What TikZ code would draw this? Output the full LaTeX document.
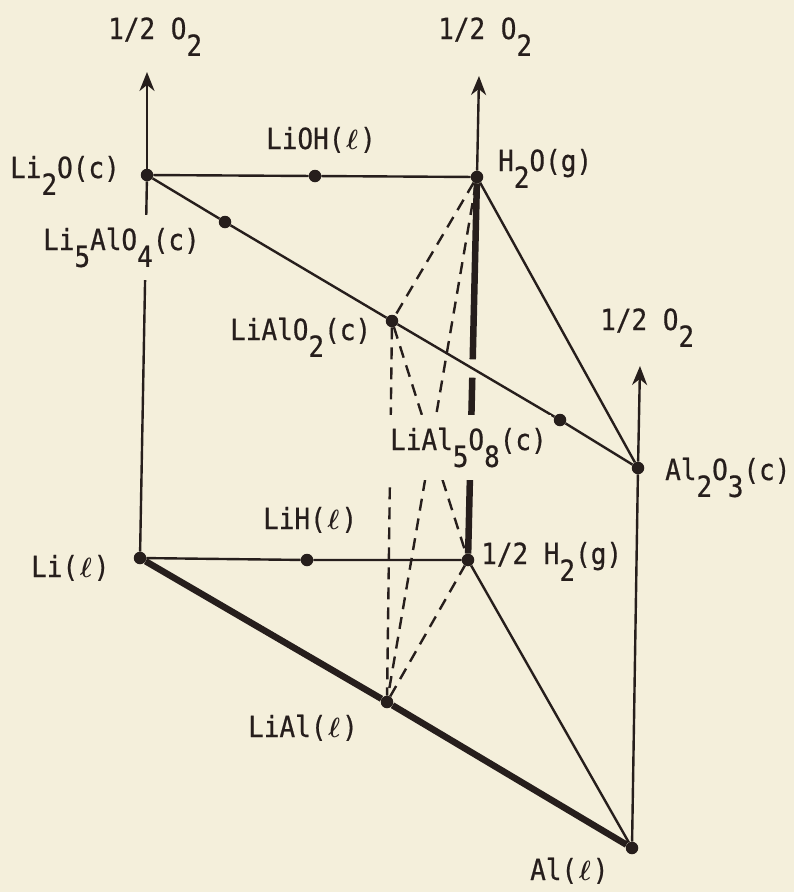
\documentclass[tikz,border=0pt]{standalone}
\usepackage{fontspec}
\newfontfamily\lblfont[FakeBold=0.6]{DejaVu Sans Mono}
\usetikzlibrary{arrows.meta,calc}
\definecolor{bg}{RGB}{244,239,219}
\definecolor{ink}{RGB}{38,30,28}
\newcommand{\lw}[1]{\raisebox{-0.58em}{#1}}
\newcommand{\el}{\makebox[0.602em]{$\boldsymbol{\ell}$}}
\newcommand{\T}[1]{\scalebox{1}[1.12]{#1}}
\usepackage{amsmath,bm}
\begin{document}
\begin{tikzpicture}[x=1pt,y=-1pt,
 lbl/.style={anchor=base west, inner sep=0pt, font=\lblfont\fontsize{26}{30}\selectfont, text=ink},
 lblf/.style={lbl, fill=bg, inner xsep=4pt, inner ysep=13pt},
 dot/.style={circle, fill=ink, inner sep=0pt, minimum size=12.5pt},
 ln/.style={draw=ink, line width=2.4pt},
 heavy/.style={draw=ink, line width=6.5pt},
 dsh/.style={draw=ink, line width=2.4pt, dash pattern=on 12pt off 8pt},
 arr/.style={ln, -{Stealth[length=19pt,width=15pt,inset=6pt]}}]
\fill[bg] (0,0) rectangle (794,892);
\useasboundingbox (0,0) rectangle (794,892);
% points
\node[dot] (li2o) at (147,175) {};
\node[dot] (lioh) at (315,176) {};
\node[dot] (h2o) at (477,177) {};
\node[dot] (li5) at (225,222) {};
\node[dot] (lialo2) at (392,321) {};
\node[dot] (lial5) at (560,420) {};
\node[dot] (al2o3) at (638,468) {};
\node[dot] (li) at (140,558) {};
\node[dot] (lih) at (307,560) {};
\node[dot] (h2) at (468,560) {};
\node[dot] (lial) at (387,702) {};
\node[dot] (al) at (632,848) {};
\coordinate (t1) at (147,72);
\coordinate (t2) at (479,76);
\coordinate (t3) at (640,366);
% arrows
\draw[arr] (li2o) -- (t1);
\draw[arr] (h2o) -- (t2);
\draw[arr] (al2o3) -- (t3);
% thin lines
\draw[ln] (li2o) -- (lioh) -- (h2o);
\draw[ln] (li2o) -- (li);
\draw[ln] (li2o) -- (li5) -- (lialo2) -- (lial5) -- (al2o3);
\draw[ln] (h2o) -- (al2o3);
\draw[ln] (al2o3) -- (al);
\draw[ln] (li) -- (lih) -- (h2);
\draw[ln] (h2) -- (al);
% heavy lines
\draw[heavy] (li) -- (lial) -- (al);
\draw[heavy] (h2o) -- ($(h2o)!0.476!(h2)$);
\draw[heavy] ($(h2o)!0.524!(h2)$) -- (h2);
% dashed
\draw[dsh] (h2o) -- (lialo2);
\draw[dsh] (h2o) -- (lial);
\draw[dsh] (lialo2) -- (lial);
\draw[dsh] (lialo2) -- (h2);
\draw[dsh] (lial) -- (h2);
% labels
\node[lbl] (o2a) at (108,39) {\T{1/2 O\lw{2}}};
\node[lbl] (o2b) at (438,39) {\T{1/2 O\lw{2}}};
\node[lbl] (o2c) at (600,330) {\T{1/2 O\lw{2}}};
\node[lbl] (lLi2O) at (10,178) {\T{Li\lw{2}O(c)}};
\node[lblf] (lLi5) at (39,250) {\T{Li\lw{5}AlO\lw{4}(c)}};
\node[lbl] (lLiOH) at (266,149) {\T{LiOH(\el)}};
\node[lbl] (lH2O) at (498,171) {\T{H\lw{2}O(g)}};
\node[lbl] (lLiAlO2) at (230,340) {\T{LiAlO\lw{2}(c)}};
\node[lblf] (lLiAl5) at (386,450) {\T{LiAl\lw{5}O\lw{8}(c)}};
\node[lbl] (lAl2O3) at (665,480) {\T{Al\lw{2}O\lw{3}(c)}};
\node[lbl] (lLi) at (31,577) {\T{Li(\el)}};
\node[lbl] (lLiH) at (263,529) {\T{LiH(\el)}};
\node[lbl] (lH2) at (481,564) {\T{1/2 H\lw{2}(g)}};
\node[lbl] (lLiAl) at (248,737) {\T{LiAl(\el)}};
\node[lbl] (lAl) at (530,880) {\T{Al(\el)}};
\end{tikzpicture}
\end{document}
